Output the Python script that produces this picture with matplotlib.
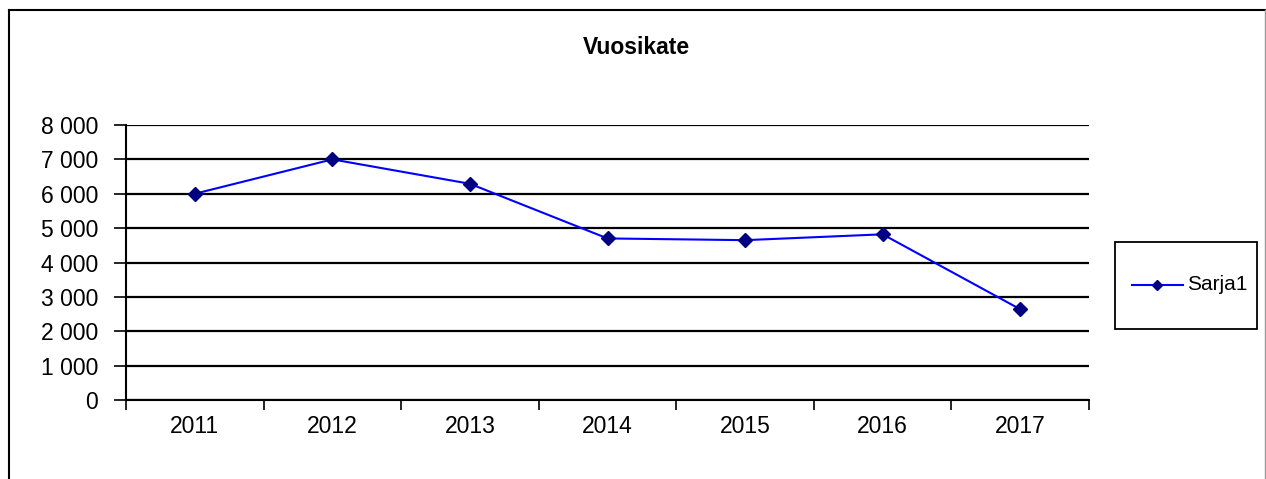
import matplotlib.pyplot as plt
from matplotlib.lines import Line2D
from matplotlib.patches import Rectangle

# data
years = ['2011', '2012', '2013', '2014', '2015', '2016', '2017']
values = [6000, 7000, 6290, 4700, 4650, 4820, 2640]
yticks = [0, 1000, 2000, 3000, 4000, 5000, 6000, 7000, 8000]
ytick_labels = ['0', '1 000', '2 000', '3 000', '4 000', '5 000', '6 000', '7 000', '8 000']
series_name = 'Sarja1'

plt.rcParams['font.family'] = ['Liberation Sans', 'DejaVu Sans']

W, H = 1266, 479
fig = plt.figure(figsize=(W / 100, H / 100), dpi=100)
ax = fig.add_axes([126 / W, 1 - 400 / H, (1089 - 126) / W, (400 - 125) / H])

x = list(range(len(years)))
ax.plot(x, values, color='#0000ff', linewidth=1.5, marker='D', markersize=7,
        markerfacecolor='#000080', markeredgecolor='#000080', zorder=3)

ax.set_xlim(-0.5, len(years) - 0.5)
ax.set_ylim(0, 8000)
ax.set_yticks(yticks)
ax.set_yticklabels(ytick_labels, fontsize=16.5)
ax.yaxis.grid(True, color='black', linewidth=1.6)
ax.set_axisbelow(True)

# category boundaries get the tick marks, labels sit in the middle
ax.set_xticks([i - 0.5 for i in range(len(years) + 1)])
ax.set_xticklabels([])
ax.set_xticks(x, minor=True)
ax.set_xticklabels(years, minor=True, fontsize=16.5)
ax.tick_params(axis='x', which='major', length=7, width=1.2, color='black')
ax.tick_params(axis='x', which='minor', length=0, pad=11)
ax.tick_params(axis='y', length=9, width=1.2, pad=11)

for s in ['top', 'right']:
    ax.spines[s].set_visible(False)
for s in ['left', 'bottom']:
    ax.spines[s].set_linewidth(1.5)

fig.text(636 / W, 1 - 47 / H, 'Vuosikate', ha='center', va='center',
         fontsize=16.5, fontweight='bold')

# legend box, drawn by hand to match the reference size
fig.add_artist(Rectangle((1115 / W, 1 - 329 / H), (1257 - 1115) / W, (329 - 242) / H,
                         transform=fig.transFigure, fill=False, edgecolor='black',
                         linewidth=1.3))
ly = 1 - 285 / H
fig.add_artist(Line2D([1132 / W, 1183 / W], [ly, ly], color='#0000ff', linewidth=1.5,
                      transform=fig.transFigure))
fig.add_artist(Line2D([1157 / W], [ly], marker='D', markersize=5, color='#000080',
                      transform=fig.transFigure))
fig.text(1187 / W, ly, series_name, ha='left', va='center', fontsize=15)

# outer chart frame
fig.add_artist(Line2D([9 / W, 9 / W], [0, 1 - 10 / H], color='black', linewidth=1.5,
                      transform=fig.transFigure))
fig.add_artist(Line2D([9 / W, 1265 / W], [1 - 10 / H, 1 - 10 / H], color='black',
                      linewidth=1.5, transform=fig.transFigure))
fig.add_artist(Line2D([1265 / W, 1265 / W], [0, 1 - 10 / H], color='#999999',
                      linewidth=1.0, transform=fig.transFigure))

fig.savefig('out.png', dpi=100)
